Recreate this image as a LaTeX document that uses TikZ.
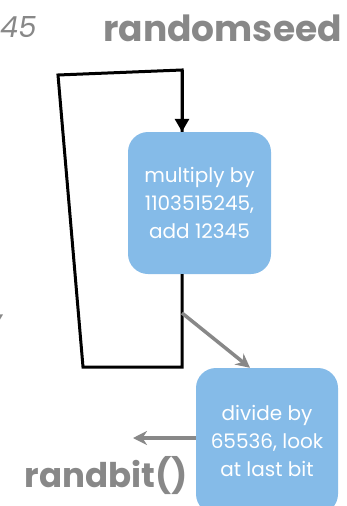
\documentclass[tikz,border=0pt]{standalone}
\usepackage{fontspec}
\setmainfont{Poppins}
\usetikzlibrary{arrows.meta}
\definecolor{boxblue}{HTML}{85BBE8}
\definecolor{txtgray}{HTML}{888888}
\tikzset{
  stepbox/.style={fill=boxblue, rounded corners=20pt, text=white, align=center,
    font=\fontsize{20}{28}\selectfont, inner sep=0pt},
  loopline/.style={draw=black, line width=3pt, line join=miter},
  grayarrow/.style={draw=txtgray, line width=3.5pt, -{Stealth[length=14pt,width=14pt]}},
  bigtext/.style={text=txtgray, font=\fontsize{36}{36}\selectfont\bfseries, inner sep=0pt},
  smalltext/.style={text=txtgray, font=\fontsize{29}{29}\selectfont\itshape, inner sep=0pt}
}
\begin{document}
\begin{tikzpicture}[x=1pt,y=-1pt]
\useasboundingbox (0,0) rectangle (347,506);
\clip (0,0) rectangle (347,506);
\node[bigtext, anchor=base east] (seed) at (342,41) {randomseed};
\node[smalltext, anchor=base west] (num) at (0,37) {45};
\node[smalltext, anchor=base west] (comma) at (-1,318) {,};
\node[stepbox, minimum width=143pt, minimum height=142pt] (mult) at (199.5,203) {multiply by\\1103515245,\\add 12345};
\node[stepbox, minimum width=142pt, minimum height=146pt] (div) at (267,441) {divide by\\65536, look\\at last bit};
\node[bigtext, font=\fontsize{34}{34}\selectfont\bfseries, anchor=base east] (rb) at (188,487) {randbit()};
\coordinate (lb) at (83,367);
\coordinate (lt) at (58,75);
\coordinate (rt) at (182,70);
\coordinate (split) at (182,313);
\draw[loopline] ([xshift=-17.5pt]mult.south) -- (lb -| split) -- (lb) -- (lt) -- (rt)
  -- ([xshift=-17.5pt]mult.north);
\draw[black, line width=3pt, -{Triangle[length=13pt,width=14pt]}] (rt) -- ([xshift=-17.5pt]mult.north);
\draw[grayarrow] (split) -- ([xshift=-17pt]div.north);
\draw[grayarrow] (div.west |- 0,438) -- (133,438);
\end{tikzpicture}
\end{document}
